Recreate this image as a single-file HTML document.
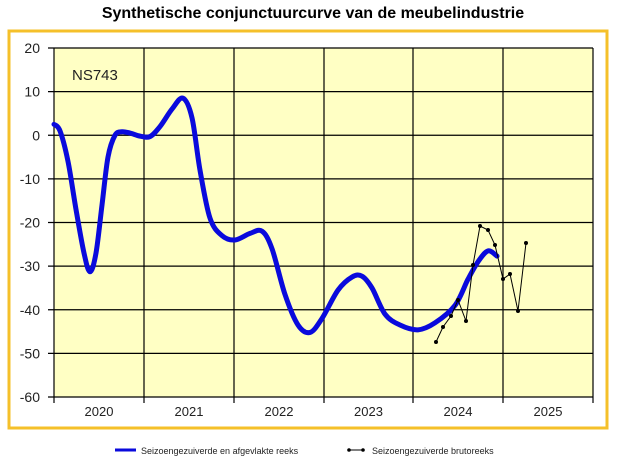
<!DOCTYPE html>
<html><head><meta charset="utf-8"><style>
body{margin:0;background:#fff;width:626px;height:463px;overflow:hidden}
svg{display:block}
</style></head><body>
<svg id="s" width="626" height="463" xmlns="http://www.w3.org/2000/svg" font-family="Liberation Sans, Arial, sans-serif">
<text x="313" y="18" text-anchor="middle" font-size="16" font-weight="bold" fill="#000">Synthetische conjunctuurcurve van de meubelindustrie</text>
<rect x="9" y="31" width="598" height="397" fill="#fff" stroke="#f5c02a" stroke-width="3"/>
<rect x="54" y="48" width="539" height="349" fill="#ffffc4"/>
<g id="grid" stroke="#000" stroke-width="1.2"></g>
<g id="lab" font-size="14" fill="#222"></g>
<text x="72" y="80" font-size="15" fill="#222">NS743</text>
<path id="blue" fill="none" stroke="#0a0adc" stroke-width="5" stroke-linecap="round" stroke-linejoin="round"/>
<polyline id="blk" fill="none" stroke="#000" stroke-width="1"/>
<g id="dots" fill="#000"></g>
<line x1="115" y1="450" x2="136" y2="450" stroke="#0a0adc" stroke-width="3"/>
<text x="141" y="454" font-size="9" fill="#222">Seizoengezuiverde en afgevlakte reeks</text>
<line x1="349" y1="450" x2="363" y2="450" stroke="#000" stroke-width="1"/>
<circle cx="349" cy="450" r="1.8"/><circle cx="363" cy="450" r="1.8"/>
<text x="372" y="454" font-size="9" fill="#222">Seizoengezuiverde brutoreeks</text>
</svg>
<script>
var ns="http://www.w3.org/2000/svg";
function Y(v){return 135.25-v*4.3625;}
function el(p,t,a,txt){var e=document.createElementNS(ns,t);for(var k in a)e.setAttribute(k,a[k]);if(txt)e.textContent=txt;document.getElementById(p).appendChild(e);}
for(var v=20;v>=-60;v-=10){var y=Y(v);el("grid","line",{x1:48,y1:y,x2:593,y2:y});el("lab","text",{x:40,y:y+5,"text-anchor":"end"},String(v));}
var xs=[54,144,234,324,413,503,593];
xs.forEach(function(x){el("grid","line",{x1:x,y1:48,x2:x,y2:403});});
var yrs=["2020","2021","2022","2023","2024","2025"];
for(var i=0;i<6;i++)el("lab","text",{x:(xs[i]+xs[i+1])/2,y:416,"text-anchor":"middle","font-size":"13"},yrs[i]);
var P=[[54,2.5],[60,1],[68,-6],[76,-17],[84,-27],[90,-31.3],[96,-27],[102,-16],[108,-5],[115,0],[122,0.8],[130,0.5],[140,-0.2],[150,-0.3],[160,2],[172,6],[183,8.5],[192,4],[200,-8],[210,-19],[222,-23],[235,-24],[250,-22.5],[262,-22],[272,-26],[285,-36.5],[298,-43.5],[310,-45.2],[322,-42],[338,-35.5],[352,-32.5],[362,-32.3],[372,-35],[385,-41],[400,-43.5],[418,-44.6],[435,-43],[455,-39],[468,-33],[478,-29],[488,-26.5],[497,-27.7]];
var pts=P.map(function(p){return [p[0],Y(p[1])];});
var d="M"+pts[0][0]+","+pts[0][1];
for(var i=0;i<pts.length-1;i++){var p0=pts[Math.max(0,i-1)],p1=pts[i],p2=pts[i+1],p3=pts[Math.min(pts.length-1,i+2)];
d+=" C"+(p1[0]+(p2[0]-p0[0])/6)+","+(p1[1]+(p2[1]-p0[1])/6)+" "+(p2[0]-(p3[0]-p1[0])/6)+","+(p2[1]-(p3[1]-p1[1])/6)+" "+p2[0]+","+p2[1];}
document.getElementById("blue").setAttribute("d",d);
var B=[[436,342],[443,327],[451,316],[458,300],[466,321],[473,265],[480,226],[488,230],[495,245],[503,279],[510,274],[518,311],[526,243]];
document.getElementById("blk").setAttribute("points",B.map(function(p){return p.join(",");}).join(" "));
B.forEach(function(p){el("dots","circle",{cx:p[0],cy:p[1],r:2});});
</script>
</body></html>
